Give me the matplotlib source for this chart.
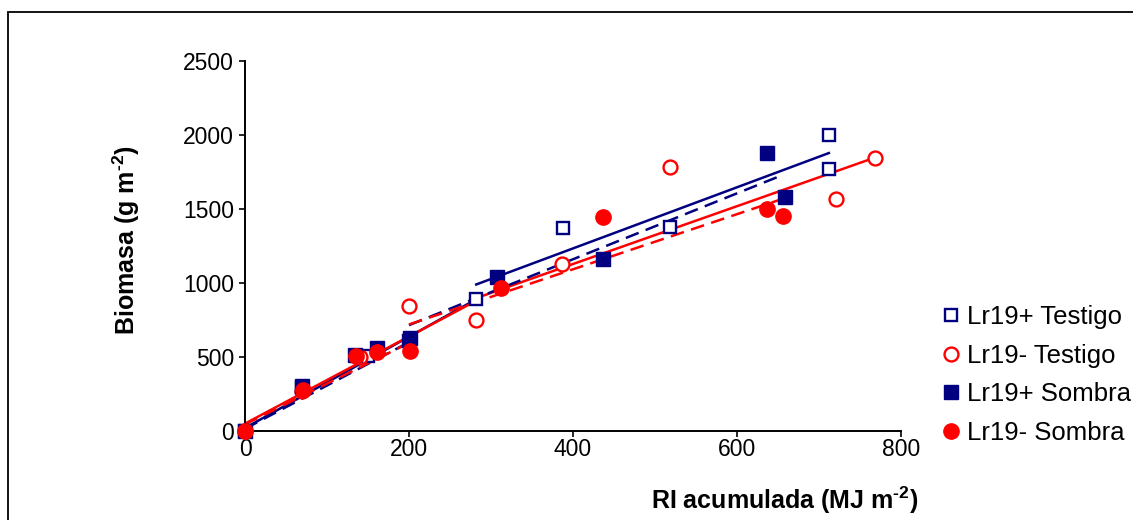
import matplotlib
matplotlib.use("Agg")
import matplotlib.pyplot as plt
from matplotlib.patches import Rectangle

plt.rcParams['font.family'] = ['Liberation Sans', 'DejaVu Sans']
plt.rcParams['mathtext.fontset'] = 'custom'
plt.rcParams['mathtext.bf'] = 'Liberation Sans:bold'
plt.rcParams['mathtext.rm'] = 'Liberation Sans:bold'

# ---- data ----
# Lr19+ Testigo
x_pt = [0, 70, 150, 200, 282, 388, 518, 712, 712]
y_pt = [0, 290, 510, 610, 890, 1372, 1378, 2000, 1770]
# Lr19- Testigo
x_mt = [0, 70, 140, 200, 282, 386, 518, 721, 768]
y_mt = [0, 270, 500, 845, 750, 1128, 1782, 1565, 1847]
# Lr19+ Sombra
x_ps = [0, 70, 134, 161, 201, 307, 436, 636, 659]
y_ps = [0, 304, 513, 560, 628, 1040, 1162, 1878, 1583]
# Lr19- Sombra
x_ms = [0, 71, 135, 161, 201, 312, 436, 636, 656]
y_ms = [0, 277, 507, 536, 540, 964, 1444, 1500, 1453]

# fitted lines, two phases each (x ends, y ends)
fit_pt = [([0, 282], [20, 890]), ([282, 712], [990, 1878])]
fit_mt = [([0, 282], [50, 880]), ([282, 768], [898, 1847])]
fit_ps = [([0, 200], [15, 600]), ([200, 649], [715, 1715])]
fit_ms = [([0, 200], [45, 595]), ([200, 659], [720, 1575])]

navy = '#000080'
red = '#FF0000'

fig = plt.figure(figsize=(11.33, 5.2), dpi=100)
ax = fig.add_axes([245/1133, 1-431/520, 656/1133, 370/520])

# outer chart frame
fig.patches.append(Rectangle((8/1133, -0.2), 1.2, 1.2 - 12/520, transform=fig.transFigure,
                             fill=False, edgecolor='black', linewidth=1.3))

for seg in fit_pt:
    ax.plot(seg[0], seg[1], color=navy, lw=1.8, zorder=2)
for seg in fit_mt:
    ax.plot(seg[0], seg[1], color=red, lw=1.8, zorder=2)
for seg in fit_ps:
    ax.plot(seg[0], seg[1], color=navy, lw=1.8, ls=(0, (5.5, 3)), zorder=2)
for seg in fit_ms:
    ax.plot(seg[0], seg[1], color=red, lw=1.8, ls=(0, (5.5, 3)), zorder=2)

ax.plot(x_pt, y_pt, ls='none', marker='s', ms=8, mfc='white', mec=navy, mew=1.7,
        label='Lr19+ Testigo', zorder=3, clip_on=False)
ax.plot(x_mt, y_mt, ls='none', marker='o', ms=10, mfc='white', mec=red, mew=1.7,
        label='Lr19- Testigo', zorder=3, clip_on=False)
ax.plot(x_ps, y_ps, ls='none', marker='s', ms=10.5, mfc=navy, mec=navy,
        label='Lr19+ Sombra', zorder=4, clip_on=False)
ax.plot(x_ms, y_ms, ls='none', marker='o', ms=11, mfc=red, mec=red,
        label='Lr19- Sombra', zorder=5, clip_on=False)

ax.set_xlim(0, 800)
ax.set_ylim(0, 2500)
ax.set_xticks([0, 200, 400, 600, 800])
ax.set_yticks([0, 500, 1000, 1500, 2000, 2500])
ax.spines['top'].set_visible(False)
ax.spines['right'].set_visible(False)
ax.spines['left'].set_linewidth(1.4)
ax.spines['bottom'].set_linewidth(1.4)
ax.tick_params(direction='out', length=4.5, width=1.2, labelsize=16.5)
ax.tick_params(axis='x', pad=0.5)
ax.tick_params(axis='y', pad=3.5)

ax.set_xlabel(r'RI acumulada (MJ m$^{\text{-2}}$)', fontsize=18, fontweight='bold')
ax.xaxis.set_label_coords(0.823, -0.145)
ax.set_ylabel(r'Biomasa (g m$^{\text{-2}}$)', fontsize=18, fontweight='bold')
ax.yaxis.set_label_coords(-0.157, 0.516)

ax.legend(loc='center left', bbox_to_anchor=(943/1133, 1-375/520), bbox_transform=fig.transFigure,
          frameon=False, fontsize=18.5, handlelength=0.6, handletextpad=0.35, labelspacing=0.58,
          borderaxespad=0, borderpad=0)

fig.savefig('out.png', dpi=100)
